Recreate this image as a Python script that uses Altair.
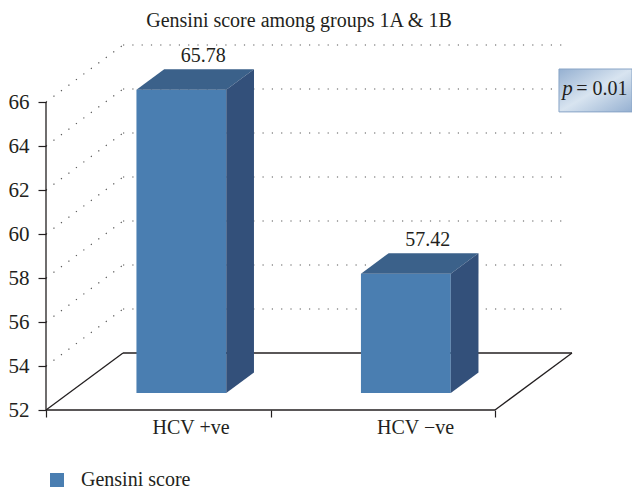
import altair as alt
import pandas as pd

# ---------------- data ----------------
categories = ["HCV +ve", "HCV −ve"]
scores = [65.78, 57.42]
score_labels = ["65.78", "57.42"]
series_name = "Gensini score"
y_ticks = [52, 54, 56, 58, 60, 62, 64, 66]
x_ticks = [0, 1, 2]
title_text = "Gensini score among groups 1A & 1B"
p_symbol = "p"
p_value_text = "= 0.01"

# ---------------- style / projection constants ----------------
FONT = "Liberation Serif"
TXT = "#231F20"
FRONT = "#4A7EB1"
TOP = "#3B618A"
SIDE = "#33507A"
DEPTH_X = 0.343      # full-depth shift in category units
DEPTH_Y = 2.59       # full-depth shift in score units
NEAR, FAR = 0.30, 0.66
BAR_LO, BAR_HI = 0.30, 0.70
GRID_END = 2.30
PLOT_W, PLOT_H = 586, 372
X_MAX = PLOT_W / 224.5
Y_MIN = y_ticks[0]
Y_MAX = Y_MIN + PLOT_H / 22.0

n = len(categories)
base = y_ticks[0]

front = pd.DataFrame({
    "category": categories,
    "series": [series_name] * n,
    "x": [i + BAR_LO + NEAR * DEPTH_X for i in range(n)],
    "x2": [i + BAR_HI + NEAR * DEPTH_X for i in range(n)],
    "y": [v + NEAR * DEPTH_Y for v in scores],
    "y2": [base + NEAR * DEPTH_Y] * n,
})

top_rows, side_rows = [], []
for i, v in enumerate(scores):
    for d in (NEAR, FAR):
        top_rows.append({"bar": i, "y": v + d * DEPTH_Y,
                         "x": i + BAR_LO + d * DEPTH_X, "x2": i + BAR_HI + d * DEPTH_X})
        side_rows.append({"bar": i, "x": i + BAR_HI + d * DEPTH_X,
                          "y": v + d * DEPTH_Y, "y2": base + d * DEPTH_Y})
top_df = pd.DataFrame(top_rows)
side_df = pd.DataFrame(side_rows)

grid_df = pd.DataFrame({
    "x": [DEPTH_X] * (len(y_ticks) - 1),
    "x2": [GRID_END] * (len(y_ticks) - 1),
    "y": [v + DEPTH_Y for v in y_ticks[1:]],
})
diag_df = pd.DataFrame({
    "x": [0.0] * (len(y_ticks) - 1),
    "x2": [DEPTH_X] * (len(y_ticks) - 1),
    "y": y_ticks[1:],
    "y2": [v + DEPTH_Y for v in y_ticks[1:]],
})
x_end = x_ticks[-1]
frame_df = pd.DataFrame({
    "x":  [0, DEPTH_X, x_end + DEPTH_X, 0, 0],
    "y":  [base, base + DEPTH_Y, base + DEPTH_Y, base, base],
    "x2": [DEPTH_X, x_end + DEPTH_X, x_end, x_end, 0],
    "y2": [base + DEPTH_Y, base + DEPTH_Y, base, base, y_ticks[-1]],
})

cat_label_df = pd.DataFrame({
    "category": categories,
    "x": [i + 0.646 for i in range(n)],
    "y": [base] * n,
})
val_label_df = pd.DataFrame({
    "label": score_labels,
    "x": [i + 0.70 for i in range(n)],
    "y": [v + 2.04 for v in scores],
})
box_df = pd.DataFrame({"x": [2.285], "x2": [X_MAX], "y": [65.55], "y2": [67.5]})
p_df = pd.DataFrame({"t": [p_symbol], "x": [2.300], "y": [66.3]})
pv_df = pd.DataFrame({"t": [p_value_text], "x": [2.362], "y": [66.3]})

xs = alt.Scale(domain=[0, X_MAX], nice=False, zero=False)
ys = alt.Scale(domain=[Y_MIN, Y_MAX], nice=False, zero=False)
noax = alt.Axis(title=None)

grid = alt.Chart(grid_df).mark_rule(
    color="#555555", strokeDash=[1.2, 8.1], strokeWidth=1.2
).encode(
    x=alt.X("x:Q", scale=xs, axis=alt.Axis(
        values=x_ticks, labels=False, domain=False, grid=False, tickSize=7,
        tickColor=TXT, tickWidth=1.2, title=None)),
    x2="x2:Q",
    y=alt.Y("y:Q", scale=ys, axis=alt.Axis(
        values=y_ticks, domain=False, grid=False, tickSize=8, tickColor=TXT,
        tickWidth=1.2, labelPadding=9, labelFont=FONT, labelFontSize=21,
        labelColor=TXT, title=None)),
)
diag = alt.Chart(diag_df).mark_rule(
    color="#555555", strokeDash=[1.2, 8.1], strokeWidth=1.2
).encode(x=alt.X("x:Q", axis=noax), x2="x2:Q", y=alt.Y("y:Q", axis=noax), y2="y2:Q")

frame = alt.Chart(frame_df).mark_rule(color=TXT, strokeWidth=1.3).encode(
    x=alt.X("x:Q", axis=noax), x2="x2:Q", y=alt.Y("y:Q", axis=noax), y2="y2:Q")

front_l = alt.Chart(front).mark_rect().encode(
    x=alt.X("x:Q", axis=noax), x2="x2:Q",
    y=alt.Y("y:Q", axis=noax), y2="y2:Q",
    color=alt.Color("series:N", scale=alt.Scale(range=[FRONT]), legend=alt.Legend(
        title=None, orient="none", legendX=1, legendY=432, padding=0,
        symbolType="square", symbolSize=196, symbolStrokeWidth=0,
        symbolOpacity=1, labelFont=FONT, labelFontSize=20, labelColor=TXT,
        labelOffset=14)),
)
top_l = alt.Chart(top_df).mark_area(orient="horizontal", color=TOP, opacity=1).encode(
    y=alt.Y("y:Q", axis=noax), x=alt.X("x:Q", axis=noax), x2="x2:Q", detail="bar:N")
side_l = alt.Chart(side_df).mark_area(orient="vertical", color=SIDE, opacity=1).encode(
    x=alt.X("x:Q", axis=noax), y=alt.Y("y:Q", axis=noax), y2="y2:Q", detail="bar:N")

cat_l = alt.Chart(cat_label_df).mark_text(
    font=FONT, fontSize=20, color=TXT, baseline="alphabetic", align="center", dy=24
).encode(x=alt.X("x:Q", axis=noax), y=alt.Y("y:Q", axis=noax), text="category:N")

val_l = alt.Chart(val_label_df).mark_text(
    font=FONT, fontSize=20, color=TXT, baseline="alphabetic", align="center"
).encode(x=alt.X("x:Q", axis=noax), y=alt.Y("y:Q", axis=noax), text="label:N")

grad = alt.Gradient(
    gradient="linear", x1=0, y1=0, x2=1, y2=1,
    stops=[alt.GradientStop(color="#95B0D1", offset=0),
           alt.GradientStop(color="#D8E4F0", offset=0.5),
           alt.GradientStop(color="#95B0D1", offset=1)])
box = alt.Chart(box_df).mark_rect(fill=grad, stroke="#88A4C6", strokeWidth=1).encode(
    x=alt.X("x:Q", axis=noax), x2="x2:Q", y=alt.Y("y:Q", axis=noax), y2="y2:Q")
p_l = alt.Chart(p_df).mark_text(
    font=FONT, fontSize=21, fontStyle="italic", color=TXT, align="left",
    baseline="alphabetic").encode(x=alt.X("x:Q", axis=noax), y=alt.Y("y:Q", axis=noax), text="t:N")
pv_l = alt.Chart(pv_df).mark_text(
    font=FONT, fontSize=20, color=TXT, align="left",
    baseline="alphabetic").encode(x=alt.X("x:Q", axis=noax), y=alt.Y("y:Q", axis=noax), text="t:N")

chart = alt.layer(
    grid, diag, frame, front_l, top_l, side_l, cat_l, val_l, box, p_l, pv_l
).properties(
    width=PLOT_W, height=PLOT_H,
    padding={"left": 38, "top": 30, "right": 0, "bottom": 84},
    autosize="none",
    title=alt.TitleParams(title_text, font=FONT, fontSize=20, fontWeight="normal",
                          color=TXT, anchor="middle", dx=-40, offset=7),
).configure_view(stroke=None)

chart.save("out.html", embed_options={"renderer": "svg", "actions": False})
